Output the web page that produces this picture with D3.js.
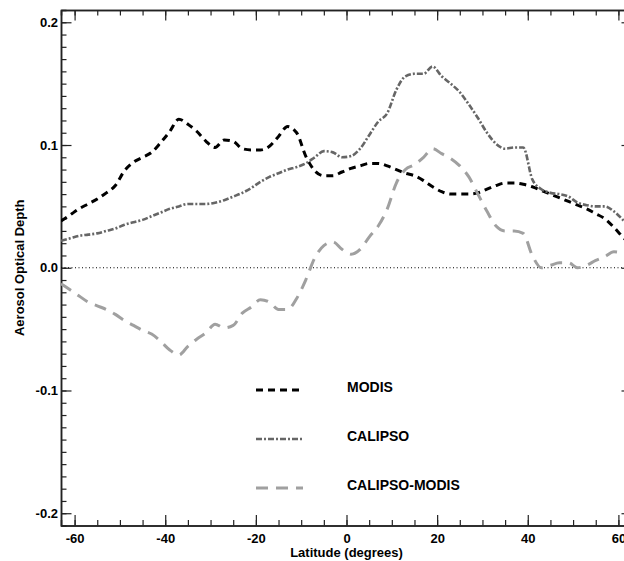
<!DOCTYPE html>
<html>
<head>
<meta charset="utf-8">
<script src="https://cdn.jsdelivr.net/npm/d3@7"></script>
<style>
  html, body { margin: 0; padding: 0; background: #fff; }
  svg { display: block; }
  text { font-family: "Liberation Sans", Arial, sans-serif; font-weight: bold; fill: #000; }
</style>
</head>
<body>
<svg id="mainsvg" width="624" height="561"></svg>
<script>
// latitude grid (degrees), every 2 degrees
const lats = d3.range(-63, 64, 2);

const modis = [
  0.038, 0.043, 0.048, 0.052, 0.056, 0.061, 0.067, 0.079, 0.086, 0.090,
  0.094, 0.102, 0.111, 0.121, 0.117, 0.111, 0.103, 0.098, 0.104, 0.103,
  0.097, 0.096, 0.096, 0.099, 0.107, 0.115, 0.110, 0.091, 0.079, 0.075,
  0.075, 0.078, 0.081, 0.083, 0.085, 0.085, 0.083, 0.080, 0.077, 0.075,
  0.071, 0.066, 0.062, 0.060, 0.060, 0.060, 0.061, 0.064, 0.067, 0.069,
  0.069, 0.068, 0.066, 0.063, 0.060, 0.057, 0.054, 0.051, 0.048, 0.044,
  0.040, 0.033, 0.025, 0.018
];

const calipso = [
  0.022, 0.024, 0.026, 0.027, 0.028, 0.030, 0.032, 0.035, 0.037, 0.039,
  0.042, 0.045, 0.048, 0.050, 0.052, 0.052, 0.052, 0.053, 0.055, 0.058,
  0.061, 0.065, 0.070, 0.074, 0.077, 0.080, 0.082, 0.085, 0.090, 0.095,
  0.094, 0.090, 0.091, 0.097, 0.108, 0.119, 0.126, 0.145, 0.156, 0.158,
  0.158, 0.164, 0.156, 0.150, 0.143, 0.133, 0.122, 0.110, 0.101, 0.097,
  0.098, 0.098, 0.072, 0.064, 0.061, 0.060, 0.058, 0.053, 0.051, 0.050,
  0.050, 0.046, 0.039, 0.030
];

const diff = [
  -0.013, -0.018, -0.023, -0.028, -0.031, -0.034, -0.038, -0.043, -0.047, -0.051,
  -0.054, -0.060, -0.067, -0.071, -0.064, -0.058, -0.053, -0.046, -0.049, -0.047,
  -0.037, -0.032, -0.026, -0.028, -0.034, -0.034, -0.025, -0.010, 0.008, 0.018,
  0.021, 0.015, 0.011, 0.015, 0.025, 0.034, 0.048, 0.069, 0.080, 0.084,
  0.090, 0.097, 0.093, 0.089, 0.083, 0.074, 0.060, 0.046, 0.034, 0.030,
  0.030, 0.028, 0.010, 0.000, 0.002, 0.004, 0.004, 0.000, 0.002, 0.006,
  0.009, 0.013, 0.012, 0.010
];

const xTicks = [-60, -40, -20, 0, 20, 40, 60];
const yTicks = [-0.2, -0.1, 0.0, 0.1, 0.2];
const seriesNames = ['MODIS', 'CALIPSO', 'CALIPSO-MODIS'];

(function () {
  const svg = d3.select('#mainsvg'),
    pLeft = 61, pTop = 10, pRight = 632, pBottom = 525.5;

  const x = d3.scaleLinear().domain([-63, 63]).range([pLeft, pRight]);
  const y = d3.scaleLinear().domain([-0.21, 0.21]).range([pBottom, pTop]);

  svg.append('defs').append('clipPath').attr('id', 'plotclip')
    .append('rect').attr('x', pLeft).attr('y', pTop)
    .attr('width', pRight - pLeft).attr('height', pBottom - pTop);

  const axisColor = '#222';
  // plain hyphen for negatives, like the original
  const hy = f => d => f(d).replace('\u2212', '-');

  // axes: ticks point inward, minor ticks every 5 deg / 0.01
  const g = svg.append('g');
  const xMinor = d3.range(-60, 61, 5);
  const yMinor = d3.range(-20, 21, 1).map(d => d / 100);

  const xb = d3.axisBottom(x).tickValues(xTicks).tickSizeInner(-10.5).tickSizeOuter(0)
    .tickFormat(hy(d3.format('d'))).tickPadding(8);
  const xbm = d3.axisBottom(x).tickValues(xMinor).tickSize(-5.5).tickFormat('');
  const xt = d3.axisTop(x).tickValues(xTicks).tickSizeInner(-10.5).tickSizeOuter(0).tickFormat('');
  const xtm = d3.axisTop(x).tickValues(xMinor).tickSize(-5.5).tickFormat('');
  const yl = d3.axisLeft(y).tickValues(yTicks).tickSizeInner(-10.5).tickSizeOuter(0)
    .tickFormat(hy(d3.format('.1f'))).tickPadding(3);
  const ylm = d3.axisLeft(y).tickValues(yMinor).tickSize(-5.5).tickFormat('');
  const yr = d3.axisRight(y).tickValues(yTicks).tickSizeInner(-10.5).tickSizeOuter(0).tickFormat('');
  const yrm = d3.axisRight(y).tickValues(yMinor).tickSize(-5.5).tickFormat('');

  g.append('g').attr('transform', `translate(0,${pBottom})`).call(xbm);
  g.append('g').attr('transform', `translate(0,${pBottom})`).call(xb);
  g.append('g').attr('transform', `translate(0,${pTop})`).call(xtm);
  g.append('g').attr('transform', `translate(0,${pTop})`).call(xt);
  g.append('g').attr('transform', `translate(${pLeft},0)`).call(ylm);
  g.append('g').attr('transform', `translate(${pLeft},0)`).call(yl);
  g.append('g').attr('transform', `translate(${pRight},0)`).call(yrm);
  g.append('g').attr('transform', `translate(${pRight},0)`).call(yr);

  g.selectAll('.domain').attr('stroke', axisColor).attr('stroke-width', 1.5);
  g.selectAll('.tick line').attr('stroke', axisColor).attr('stroke-width', 1.2);
  g.selectAll('.tick text').attr('font-size', '13px')
    .attr('font-family', '"Liberation Sans", Arial, sans-serif')
    .attr('font-weight', 'bold').attr('fill', '#000');

  // zero reference line
  svg.append('line')
    .attr('x1', pLeft).attr('x2', pRight)
    .attr('y1', y(0)).attr('y2', y(0))
    .attr('stroke', '#000').attr('stroke-width', 1)
    .attr('stroke-dasharray', '1,2.5');

  const styles = [
    { color: '#000', width: 3, dash: '7,5' },
    { color: '#666', width: 2.6, dash: '6,2,2,2' },
    { color: '#a0a0a0', width: 3, dash: '12,8' }
  ];
  const values = [modis, calipso, diff];

  const line = d3.line()
    .x((d, i) => x(lats[i]))
    .y(d => y(d))
    .curve(d3.curveMonotoneX);

  const plot = svg.append('g').attr('clip-path', 'url(#plotclip)');
  values.forEach((vals, k) => {
    plot.append('path')
      .datum(vals)
      .attr('d', line)
      .attr('fill', 'none')
      .attr('stroke', styles[k].color)
      .attr('stroke-width', styles[k].width)
      .attr('stroke-dasharray', styles[k].dash);
  });

  // legend
  const legendY = [390, 439, 488];
  seriesNames.forEach((name, k) => {
    svg.append('line')
      .attr('x1', 256).attr('x2', 303)
      .attr('y1', legendY[k]).attr('y2', legendY[k])
      .attr('stroke', styles[k].color)
      .attr('stroke-width', styles[k].width)
      .attr('stroke-dasharray', styles[k].dash);
    svg.append('text')
      .attr('x', 347).attr('y', legendY[k] + 1.5)
      .attr('font-size', '14px')
      .text(name);
  });

  // axis titles
  svg.append('text')
    .attr('x', x(0)).attr('y', 557)
    .attr('text-anchor', 'middle')
    .attr('font-size', '13px')
    .text('Latitude (degrees)');

  svg.append('text')
    .attr('transform', `translate(23.5,${y(0)}) rotate(-90)`)
    .attr('text-anchor', 'middle')
    .attr('font-size', '13px')
    .text('Aerosol Optical Depth');
})();
</script>
</body>
</html>
